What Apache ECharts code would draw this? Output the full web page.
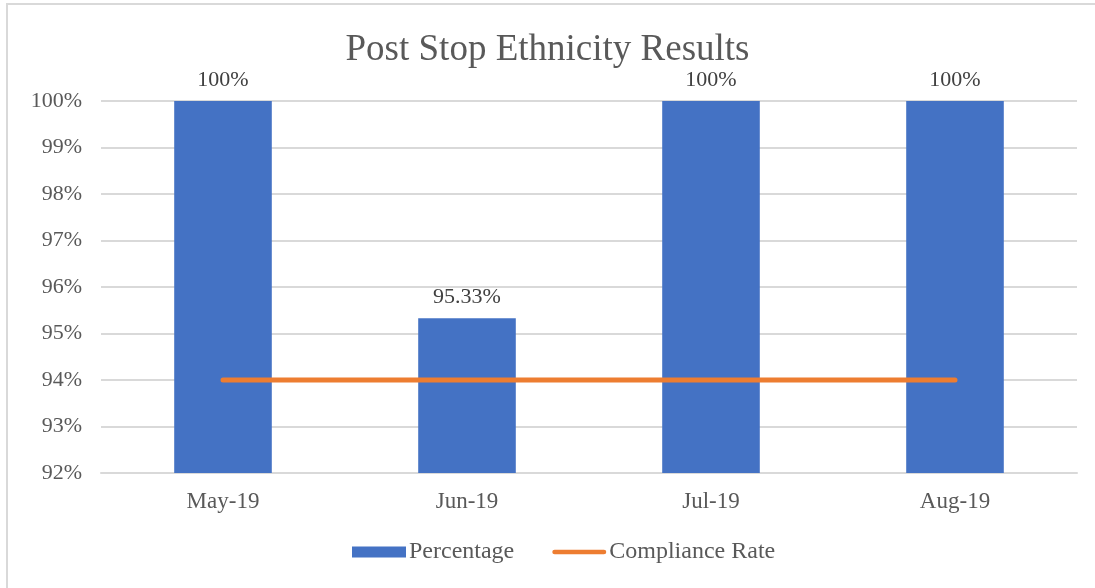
<!DOCTYPE html>
<html lang="en">
<head>
    <meta charset="UTF-8">
    <title>Post Stop Ethnicity Results</title>
    <script src="https://cdn.jsdelivr.net/npm/echarts@6/dist/echarts.min.js"></script>
    <style>
        html, body { margin: 0; padding: 0; background: #fff; }
    </style>
</head>
<body>
<div id="chart" style="width:1095px; height:588px"></div>
<script type="text/javascript">
    // data
    var months = ['May-19', 'Jun-19', 'Jul-19', 'Aug-19'];
    var percentage = [100, 95.33, 100, 100];
    var complianceRate = [94, 94, 94, 94];
    var yTicks = [92, 93, 94, 95, 96, 97, 98, 99, 100];

    var serif = '"Liberation Serif", "Times New Roman", serif';
    var textGrey = '#595959';

    var myChart = echarts.init(document.getElementById('chart'));
    myChart.setOption({
        backgroundColor: '#fff',
        animation: false,
        // outer chart frame
        graphic: [{
            type: 'rect',
            shape: { x: 7, y: 4, width: 1200, height: 700 },
            style: { fill: 'none', stroke: '#d9d9d9', lineWidth: 2 }
        }],
        title: {
            text: 'Post Stop Ethnicity Results',
            left: 'center',
            top: 27,
            textStyle: { fontFamily: serif, fontSize: 37, fontWeight: 'normal', color: textGrey }
        },
        legend: {
            bottom: 19,
            left: 347,
            itemGap: 38,
            itemWidth: 54,
            itemHeight: 11,
            textStyle: { fontFamily: serif, fontSize: 24, color: textGrey, padding: [0, 0, 0, -2] },
            data: [
                { name: 'Percentage', icon: 'rect' },
                { name: 'Compliance Rate', icon: 'path://M2.5,0 L54.5,0 A2.5,2.5 0 0 1 54.5,5 L2.5,5 A2.5,2.5 0 0 1 2.5,0 Z' }
            ]
        },
        grid: { left: 101, right: 18, top: 101, bottom: 115 },
        xAxis: {
            type: 'category',
            data: months,
            axisTick: { show: false },
            axisLine: { lineStyle: { color: '#d9d9d9', width: 2 } },
            axisLabel: { fontFamily: serif, fontSize: 23, color: textGrey, margin: 17 }
        },
        yAxis: {
            type: 'value',
            min: yTicks[0],
            max: yTicks[yTicks.length - 1],
            interval: 1,
            axisLine: { show: false },
            axisTick: { show: false },
            splitLine: { lineStyle: { color: '#d9d9d9', width: 2 } },
            axisLabel: {
                fontFamily: serif, fontSize: 22, color: textGrey, margin: 19,
                formatter: function (v) { return v + '%'; }
            }
        },
        series: [{
            name: 'Percentage',
            type: 'bar',
            data: percentage,
            barWidth: '40%',
            itemStyle: { color: '#4472C4' },
            label: {
                show: true,
                position: 'top',
                distance: 10,
                fontFamily: serif, fontSize: 22, color: '#404040',
                formatter: function (p) { return p.value + '%'; }
            }
        }, {
            name: 'Compliance Rate',
            type: 'line',
            data: complianceRate,
            symbol: 'none',
            lineStyle: { color: '#ED7D31', width: 5, cap: 'round' },
            itemStyle: { color: '#ED7D31' },
            z: 3
        }]
    });
</script>
</body>
</html>
